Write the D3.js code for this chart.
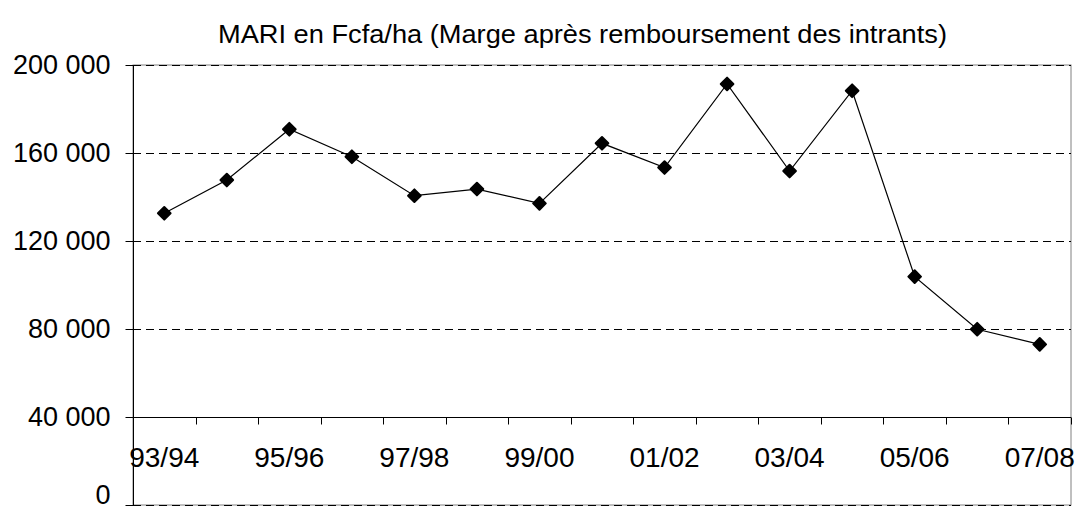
<!DOCTYPE html>
<html>
<head>
<meta charset="utf-8">
<script src="https://cdn.jsdelivr.net/npm/d3@7"></script>
<style>
  html, body { margin: 0; padding: 0; background: #fff; }
  svg { display: block; }
  text { font-family: "Liberation Sans", Arial, sans-serif; fill: #000; }
</style>
</head>
<body>
<svg id="chart" width="1079" height="511"></svg>
<script>
const title = "MARI en Fcfa/ha (Marge après remboursement des intrants)";
const categories = ["93/94","94/95","95/96","96/97","97/98","98/99","99/00","00/01","01/02","02/03","03/04","04/05","05/06","06/07","07/08"];
const values = [132600, 147700, 170800, 158300, 140600, 143600, 137100, 164400, 153400, 191400, 151800, 188300, 103800, 79900, 73000];
const yTicks = [0, 40000, 80000, 120000, 160000, 200000];
const xLabelCats = ["93/94","95/96","97/98","99/00","01/02","03/04","05/06","07/08"];

(function () {
const svg = d3.select("#chart");
const pLeft = 133, pRight = 1071, pTop = 65, pBottom = 505;

const x = d3.scaleBand().domain(categories).range([pLeft, pRight]).paddingInner(0).paddingOuter(0);
const y = d3.scaleLinear().domain([0, 200000]).range([pBottom, pTop]);
const fmt = v => d3.format(",")(v).replace(/,/g, " ");

// plot area border
svg.append("rect")
  .attr("x", pLeft).attr("y", pTop)
  .attr("width", pRight - pLeft).attr("height", pBottom - pTop)
  .attr("fill", "none").attr("stroke", "#808080").attr("stroke-width", 1);

// gridlines
svg.append("g").selectAll("line").data(yTicks).join("line")
  .attr("x1", pLeft).attr("x2", pRight)
  .attr("y1", d => Math.round(y(d)) + 0.5).attr("y2", d => Math.round(y(d)) + 0.5)
  .attr("stroke", "#000").attr("stroke-width", 1)
  .attr("stroke-dasharray", "8,5");

// y axis
const yAxis = d3.axisLeft(y).tickValues(yTicks).tickSize(8).tickFormat(fmt);
const gy = svg.append("g").attr("transform", `translate(${pLeft + 0.5},0)`).call(yAxis);
gy.select(".domain").attr("stroke", "#000").attr("d", `M0,${pTop}V${pBottom}`);
gy.selectAll(".tick line").attr("stroke", "#000");
gy.selectAll(".tick text")
  .attr("x", -23)
  .attr("dy", d => d === 0 ? "-0.06em" : "0.33em")
  .style("font-size", "27px").style("font-family", "'Liberation Sans', Arial, sans-serif");

// x axis at 40 000
const xAxisY = Math.round(y(40000)) + 0.5;
const gx = svg.append("g").attr("transform", `translate(0,${xAxisY})`);
gx.append("line").attr("x1", pLeft).attr("x2", pRight).attr("y1", 0).attr("y2", 0).attr("stroke", "#000");
const edges = categories.map(c => x(c) + x.bandwidth());
gx.selectAll("line.tk").data(edges).join("line").attr("class", "tk")
  .attr("x1", d => Math.round(d) + 0.5).attr("x2", d => Math.round(d) + 0.5)
  .attr("y1", 0).attr("y2", 7).attr("stroke", "#000");
gx.selectAll("text").data(xLabelCats).join("text")
  .attr("x", d => x(d) + x.bandwidth() / 2)
  .attr("y", 467 - xAxisY)
  .attr("text-anchor", "middle")
  .style("font-size", "28px")
  .text(d => d);

// line
const line = d3.line().x((d, i) => x(categories[i]) + x.bandwidth() / 2).y(d => y(d));
svg.append("path").datum(values)
  .attr("d", line).attr("fill", "none").attr("stroke", "#000").attr("stroke-width", 1.2);

// markers
const sym = d3.symbol().type(d3.symbolSquare).size(80);
svg.append("g").selectAll("path").data(values).join("path")
  .attr("d", sym)
  .attr("transform", (d, i) => `translate(${x(categories[i]) + x.bandwidth() / 2},${y(d)}) rotate(45)`)
  .attr("fill", "#000").attr("stroke", "#000").attr("stroke-width", 2).attr("stroke-linejoin", "round");

// title
svg.append("text")
  .attr("x", 218).attr("y", 43)
  .attr("textLength", 729).attr("lengthAdjust", "spacingAndGlyphs")
  .style("font-size", "26px")
  .text(title);
})();
</script>
</body>
</html>
